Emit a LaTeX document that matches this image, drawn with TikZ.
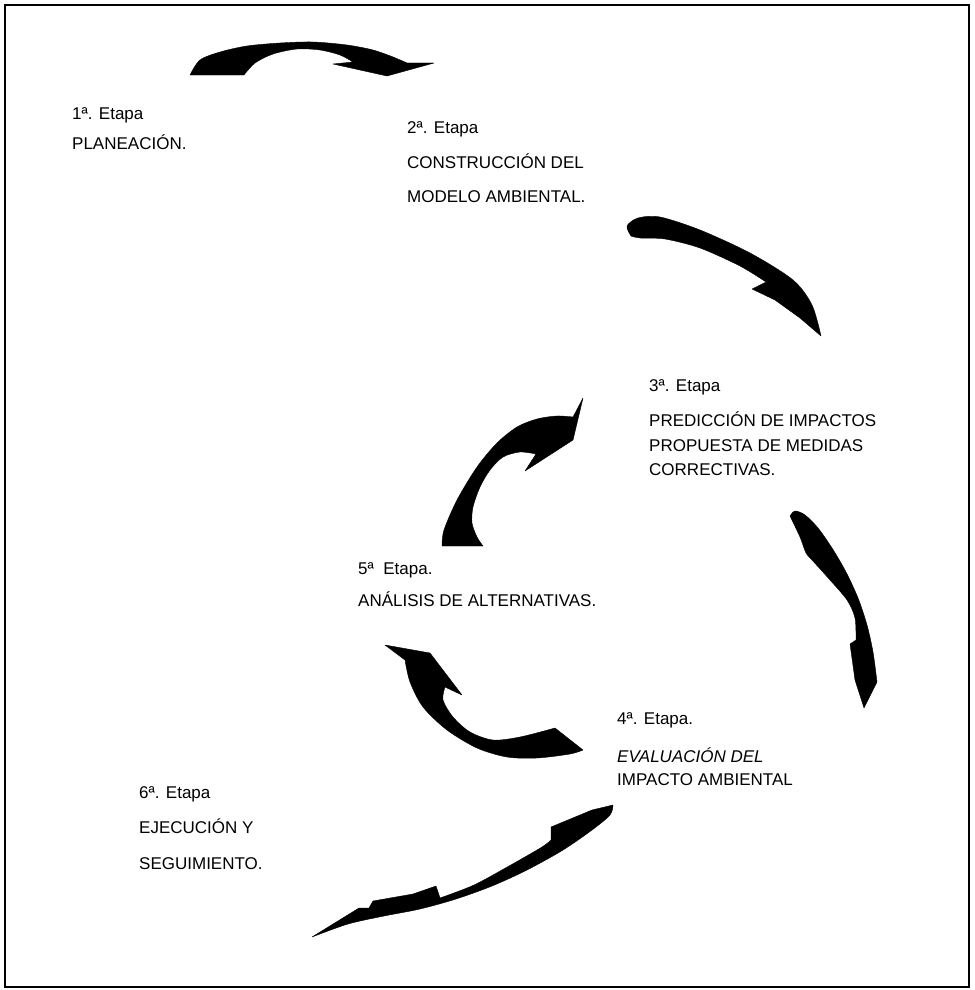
\documentclass[tikz,border=0pt]{standalone}
\usepackage{fontspec}
\setmainfont{Liberation Sans}
\begin{document}
\begin{tikzpicture}[x=1pt,y=-1pt,
  lbl/.style={anchor=base west, inner sep=0pt, font=\fontsize{17}{20}\selectfont},
  blob/.style={fill=black, draw=black, line width=0.4pt, line join=round}]
\useasboundingbox (0,0) rectangle (974,990);
\draw[line width=1.3pt] (5,5) rectangle (969,987);

% texts
\node[lbl] (e1) at (72,119) {1ª. Etapa};
\node[lbl] (s1) at (72,149) {PLANEACIÓN.};
\node[lbl] (e2) at (407,133) {2ª. Etapa};
\node[lbl] (s2a) at (407,168) {CONSTRUCCIÓN DEL};
\node[lbl] (s2b) at (407,202) {MODELO AMBIENTAL.};
\node[lbl] (e3) at (649,391) {3ª. Etapa};
\node[lbl] (s3a) at (649,426) {PREDICCIÓN DE IMPACTOS};
\node[lbl] (s3b) at (649,451) {PROPUESTA DE MEDIDAS};
\node[lbl] (s3c) at (649,475) {CORRECTIVAS.};
\node[lbl] (e5) at (358,574) {5ª\ \ Etapa.};
\node[lbl] (s5) at (358,606) {ANÁLISIS DE ALTERNATIVAS.};
\node[lbl] (e4) at (617,724) {4ª. Etapa.};
\node[lbl] (s4a) at (617,762) {\itshape EVALUACIÓN DEL};
\node[lbl] (s4b) at (617,785) {IMPACTO AMBIENTAL};
\node[lbl] (e6) at (139,798) {6ª. Etapa};
\node[lbl] (s6a) at (139,833) {EJECUCIÓN Y};
\node[lbl] (s6b) at (139,869) {SEGUIMIENTO.};

% arrow 1 -> 2 (top arch)
\fill[blob] (190,75) -- plot[smooth] coordinates {(190,75) (200,60) (220,52) (247,46) (280,43) (313,42) (347,45) (373,50) (393,57) (407,63)}
  -- (434,63) -- (387,76) -- (333,64) -- (353,62)
  -- plot[smooth] coordinates {(353,62) (340,55) (320,50) (297,49) (273,54) (255,63) (244,75)} -- cycle;

% arrow 2 -> 3
\fill[blob] plot[smooth] coordinates {(631,236) (627,226) (638,218) (660,217) (700,230) (750,253) (793,280) (812,305) (821,336)}
  -- (800,318) -- (775,300) -- (752,289) -- (766,282)
  -- plot[smooth] coordinates {(766,282) (740,266) (700,248) (665,239) (640,238) (631,236)} -- cycle;

% arrow 3 -> 4
\fill[blob] plot[smooth] coordinates {(790,516) (795,511) (805,515) (818,528) (832,548) (846,572) (858,598) (867,625) (873,652) (877,682)}
  -- (864,708) -- (855,680) -- (850,644) -- (856,640)
  -- plot[smooth] coordinates {(856,640) (855,618) (847,600) (830,580) (812,560) (806,553) (800,537) (790,516)} -- cycle;

% arrow 5 -> 3 (rising)
\fill[blob] (583,398) -- (573,440) -- (525,471) -- (536,454)
  -- plot[smooth] coordinates {(536,454) (520,452) (503,457) (490,470) (480,487) (473,507) (472,523) (477,537) (483,546)}
  -- (442,546)
  -- plot[smooth] coordinates {(442,546) (444,530) (457,500) (477,467) (497,443) (517,427) (537,419) (557,416) (573,417)} -- cycle;

% arrow 4 -> 5 (C shape)
\fill[blob] (385,645) -- (430,653) -- (462,695) -- (445,687)
  -- plot[smooth] coordinates {(445,687) (443,700) (453,717) (470,732) (493,740) (520,737) (555,728)}
  -- (583,750)
  -- plot[smooth] coordinates {(583,750) (570,754) (537,758) (507,757) (477,748) (447,730) (423,707) (410,682) (405,660)} -- cycle;

% arrow 4 -> 6 (bottom)
\fill[blob] (613,805) -- (592,810) -- (551,827) -- (551,840)
  -- plot[smooth] coordinates {(551,840) (542,847) (509,866) (474,885) (440,898)}
  -- (436,886) -- (413,894) -- (373,901) -- (369,908) -- (359,908) -- (312,937)
  -- plot[smooth] coordinates {(312,937) (348,924) (384,916) (420,909) (456,899) (492,886) (527,870) (563,850) (592,830) (610,815) (613,805)} -- cycle;
\end{tikzpicture}
\end{document}
